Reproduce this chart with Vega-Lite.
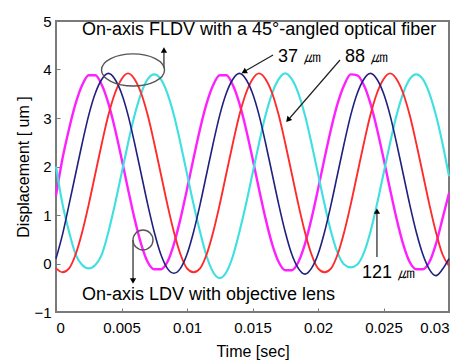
{
"$schema": "https://vega.github.io/schema/vega-lite/v6.json",
"width": 393, "height": 291,
"autosize": "none",
"padding": {"left": 56, "top": 21, "right": 14, "bottom": 49},
"config": {
 "font": "Liberation Sans",
 "view": {"stroke": "#7a7a7a", "strokeWidth": 2},
 "axis": {"grid": false, "domain": false, "tickColor": "#7a7a7a", "tickSize": -4, "labelColor": "#000", "labelFontSize": 15, "titleColor": "#000", "titleFontWeight": "normal"}
},
"datasets": {
 "waves": [
{"s":"m","t":0,"y":1.40},{"s":"m","t":0.0005,"y":2.17},{"s":"m","t":0.001,"y":2.78},{"s":"m","t":0.0015,"y":3.30},{"s":"m","t":0.002,"y":3.68},{"s":"m","t":0.0025,"y":3.88},{"s":"m","t":0.003,"y":3.88},{"s":"m","t":0.0035,"y":3.68},{"s":"m","t":0.004,"y":3.30},{"s":"m","t":0.0045,"y":2.78},{"s":"m","t":0.005,"y":2.17},{"s":"m","t":0.0055,"y":1.53},{"s":"m","t":0.006,"y":0.92},{"s":"m","t":0.0065,"y":0.40},{"s":"m","t":0.007,"y":0.03},{"s":"m","t":0.0075,"y":-0.12},{"s":"m","t":0.008,"y":-0.12},{"s":"m","t":0.0085,"y":0.03},{"s":"m","t":0.009,"y":0.40},{"s":"m","t":0.0095,"y":0.92},
{"s":"m","t":0.01,"y":1.53},{"s":"m","t":0.0105,"y":2.17},{"s":"m","t":0.011,"y":2.78},{"s":"m","t":0.0115,"y":3.30},{"s":"m","t":0.012,"y":3.68},{"s":"m","t":0.0125,"y":3.88},{"s":"m","t":0.013,"y":3.88},{"s":"m","t":0.0135,"y":3.68},{"s":"m","t":0.014,"y":3.30},{"s":"m","t":0.0145,"y":2.78},{"s":"m","t":0.015,"y":2.17},{"s":"m","t":0.0155,"y":1.53},{"s":"m","t":0.016,"y":0.92},{"s":"m","t":0.0165,"y":0.40},{"s":"m","t":0.017,"y":0.03},{"s":"m","t":0.0175,"y":-0.14},{"s":"m","t":0.018,"y":-0.14},{"s":"m","t":0.0185,"y":0.03},{"s":"m","t":0.019,"y":0.40},{"s":"m","t":0.0195,"y":0.92},
{"s":"m","t":0.02,"y":1.53},{"s":"m","t":0.0205,"y":2.17},{"s":"m","t":0.021,"y":2.78},{"s":"m","t":0.0215,"y":3.30},{"s":"m","t":0.022,"y":3.68},{"s":"m","t":0.0225,"y":3.90},{"s":"m","t":0.023,"y":3.88},{"s":"m","t":0.0235,"y":3.68},{"s":"m","t":0.024,"y":3.30},{"s":"m","t":0.0245,"y":2.78},{"s":"m","t":0.025,"y":2.17},{"s":"m","t":0.0255,"y":1.53},{"s":"m","t":0.026,"y":0.92},{"s":"m","t":0.0265,"y":0.40},{"s":"m","t":0.027,"y":0.03},{"s":"m","t":0.0275,"y":-0.12},{"s":"m","t":0.028,"y":-0.12},{"s":"m","t":0.0285,"y":0.03},{"s":"m","t":0.029,"y":0.40},{"s":"m","t":0.0295,"y":0.92},{"s":"m","t":0.03,"y":1.45},
{"s":"c","t":0,"y":2.00},{"s":"c","t":0.0005,"y":1.22},{"s":"c","t":0.001,"y":0.65},{"s":"c","t":0.0015,"y":0.19},{"s":"c","t":0.002,"y":-0.03},{"s":"c","t":0.0025,"y":-0.10},{"s":"c","t":0.003,"y":-0.03},{"s":"c","t":0.0035,"y":0.19},{"s":"c","t":0.004,"y":0.65},{"s":"c","t":0.0045,"y":1.22},{"s":"c","t":0.005,"y":1.85},{"s":"c","t":0.0055,"y":2.48},{"s":"c","t":0.006,"y":3.06},{"s":"c","t":0.0065,"y":3.51},{"s":"c","t":0.007,"y":3.80},{"s":"c","t":0.0075,"y":3.90},{"s":"c","t":0.008,"y":3.80},{"s":"c","t":0.0085,"y":3.51},{"s":"c","t":0.009,"y":3.06},{"s":"c","t":0.0095,"y":2.48},
{"s":"c","t":0.01,"y":1.85},{"s":"c","t":0.0105,"y":1.22},{"s":"c","t":0.011,"y":0.65},{"s":"c","t":0.0115,"y":0.15},{"s":"c","t":0.012,"y":-0.18},{"s":"c","t":0.0125,"y":-0.30},{"s":"c","t":0.013,"y":-0.18},{"s":"c","t":0.0135,"y":0.15},{"s":"c","t":0.014,"y":0.65},{"s":"c","t":0.0145,"y":1.22},{"s":"c","t":0.015,"y":1.85},{"s":"c","t":0.0155,"y":2.48},{"s":"c","t":0.016,"y":3.06},{"s":"c","t":0.0165,"y":3.51},{"s":"c","t":0.017,"y":3.80},{"s":"c","t":0.0175,"y":3.92},{"s":"c","t":0.018,"y":3.80},{"s":"c","t":0.0185,"y":3.51},{"s":"c","t":0.019,"y":3.06},{"s":"c","t":0.0195,"y":2.48},
{"s":"c","t":0.02,"y":1.85},{"s":"c","t":0.0205,"y":1.22},{"s":"c","t":0.021,"y":0.65},{"s":"c","t":0.0215,"y":0.22},{"s":"c","t":0.022,"y":-0.02},{"s":"c","t":0.0225,"y":-0.08},{"s":"c","t":0.023,"y":-0.02},{"s":"c","t":0.0235,"y":0.22},{"s":"c","t":0.024,"y":0.65},{"s":"c","t":0.0245,"y":1.22},{"s":"c","t":0.025,"y":1.85},{"s":"c","t":0.0255,"y":2.48},{"s":"c","t":0.026,"y":3.06},{"s":"c","t":0.0265,"y":3.51},{"s":"c","t":0.027,"y":3.80},{"s":"c","t":0.0275,"y":3.90},{"s":"c","t":0.028,"y":3.80},{"s":"c","t":0.0285,"y":3.51},{"s":"c","t":0.029,"y":3.06},{"s":"c","t":0.0295,"y":2.48},{"s":"c","t":0.03,"y":1.80},
{"s":"r","t":0,"y":-0.10},{"s":"r","t":0.0005,"y":-0.18},{"s":"r","t":0.001,"y":-0.10},{"s":"r","t":0.0015,"y":0.19},{"s":"r","t":0.002,"y":0.65},{"s":"r","t":0.0025,"y":1.22},{"s":"r","t":0.003,"y":1.85},{"s":"r","t":0.0035,"y":2.48},{"s":"r","t":0.004,"y":3.06},{"s":"r","t":0.0045,"y":3.51},{"s":"r","t":0.005,"y":3.80},{"s":"r","t":0.0055,"y":3.92},{"s":"r","t":0.006,"y":3.80},{"s":"r","t":0.0065,"y":3.51},{"s":"r","t":0.007,"y":3.06},{"s":"r","t":0.0075,"y":2.48},{"s":"r","t":0.008,"y":1.85},{"s":"r","t":0.0085,"y":1.22},{"s":"r","t":0.009,"y":0.65},{"s":"r","t":0.0095,"y":0.19},
{"s":"r","t":0.01,"y":-0.10},{"s":"r","t":0.0105,"y":-0.18},{"s":"r","t":0.011,"y":-0.10},{"s":"r","t":0.0115,"y":0.19},{"s":"r","t":0.012,"y":0.65},{"s":"r","t":0.0125,"y":1.22},{"s":"r","t":0.013,"y":1.85},{"s":"r","t":0.0135,"y":2.48},{"s":"r","t":0.014,"y":3.06},{"s":"r","t":0.0145,"y":3.51},{"s":"r","t":0.015,"y":3.80},{"s":"r","t":0.0155,"y":3.92},{"s":"r","t":0.016,"y":3.80},{"s":"r","t":0.0165,"y":3.51},{"s":"r","t":0.017,"y":3.06},{"s":"r","t":0.0175,"y":2.48},{"s":"r","t":0.018,"y":1.85},{"s":"r","t":0.0185,"y":1.22},{"s":"r","t":0.019,"y":0.65},{"s":"r","t":0.0195,"y":0.19},
{"s":"r","t":0.02,"y":-0.10},{"s":"r","t":0.0205,"y":-0.18},{"s":"r","t":0.021,"y":-0.10},{"s":"r","t":0.0215,"y":0.19},{"s":"r","t":0.022,"y":0.65},{"s":"r","t":0.0225,"y":1.22},{"s":"r","t":0.023,"y":1.85},{"s":"r","t":0.0235,"y":2.48},{"s":"r","t":0.024,"y":3.06},{"s":"r","t":0.0245,"y":3.51},{"s":"r","t":0.025,"y":3.80},{"s":"r","t":0.0255,"y":3.92},{"s":"r","t":0.026,"y":3.80},{"s":"r","t":0.0265,"y":3.51},{"s":"r","t":0.027,"y":3.06},{"s":"r","t":0.0275,"y":2.48},{"s":"r","t":0.028,"y":1.85},{"s":"r","t":0.0285,"y":1.22},{"s":"r","t":0.029,"y":0.65},{"s":"r","t":0.0295,"y":0.19},{"s":"r","t":0.03,"y":-0.05},
{"s":"n","t":0,"y":0.10},{"s":"n","t":0.0005,"y":0.60},{"s":"n","t":0.001,"y":1.22},{"s":"n","t":0.0015,"y":1.85},{"s":"n","t":0.002,"y":2.48},{"s":"n","t":0.0025,"y":3.06},{"s":"n","t":0.003,"y":3.51},{"s":"n","t":0.0035,"y":3.80},{"s":"n","t":0.004,"y":3.92},{"s":"n","t":0.0045,"y":3.80},{"s":"n","t":0.005,"y":3.51},{"s":"n","t":0.0055,"y":3.06},{"s":"n","t":0.006,"y":2.48},{"s":"n","t":0.0065,"y":1.85},{"s":"n","t":0.007,"y":1.22},{"s":"n","t":0.0075,"y":0.65},{"s":"n","t":0.008,"y":0.19},{"s":"n","t":0.0085,"y":-0.10},{"s":"n","t":0.009,"y":-0.20},{"s":"n","t":0.0095,"y":-0.10},
{"s":"n","t":0.01,"y":0.19},{"s":"n","t":0.0105,"y":0.65},{"s":"n","t":0.011,"y":1.22},{"s":"n","t":0.0115,"y":1.85},{"s":"n","t":0.012,"y":2.48},{"s":"n","t":0.0125,"y":3.06},{"s":"n","t":0.013,"y":3.51},{"s":"n","t":0.0135,"y":3.80},{"s":"n","t":0.014,"y":3.92},{"s":"n","t":0.0145,"y":3.80},{"s":"n","t":0.015,"y":3.51},{"s":"n","t":0.0155,"y":3.06},{"s":"n","t":0.016,"y":2.48},{"s":"n","t":0.0165,"y":1.85},{"s":"n","t":0.017,"y":1.22},{"s":"n","t":0.0175,"y":0.65},{"s":"n","t":0.018,"y":0.19},{"s":"n","t":0.0185,"y":-0.10},{"s":"n","t":0.019,"y":-0.22},{"s":"n","t":0.0195,"y":-0.10},
{"s":"n","t":0.02,"y":0.19},{"s":"n","t":0.0205,"y":0.65},{"s":"n","t":0.021,"y":1.22},{"s":"n","t":0.0215,"y":1.85},{"s":"n","t":0.022,"y":2.48},{"s":"n","t":0.0225,"y":3.06},{"s":"n","t":0.023,"y":3.51},{"s":"n","t":0.0235,"y":3.80},{"s":"n","t":0.024,"y":3.92},{"s":"n","t":0.0245,"y":3.80},{"s":"n","t":0.025,"y":3.51},{"s":"n","t":0.0255,"y":3.06},{"s":"n","t":0.026,"y":2.48},{"s":"n","t":0.0265,"y":1.85},{"s":"n","t":0.027,"y":1.22},{"s":"n","t":0.0275,"y":0.65},{"s":"n","t":0.028,"y":0.19},{"s":"n","t":0.0285,"y":-0.12},{"s":"n","t":0.029,"y":-0.25},{"s":"n","t":0.0295,"y":-0.12},{"s":"n","t":0.03,"y":0.10}
 ],
 "labels": [
  {"t":0.00198,"y":4.81,"label":"On-axis FLDV with a 45°-angled optical fiber"},
  {"t":0.01695,"y":4.26,"label":"37 ㎛"},
  {"t":0.02206,"y":4.26,"label":"88 ㎛"},
  {"t":0.02336,"y":-0.2,"label":"121 ㎛"},
  {"t":0.00198,"y":-0.65,"label":"On-axis LDV with objective lens"}
 ],
 "arrows": [
  {"t":0.00824,"y":4.03,"t2":0.00824,"y2":4.38},
  {"t":0.01657,"y":4.30,"t2":0.01445,"y2":3.97},
  {"t":0.02168,"y":4.196,"t2":0.01785,"y2":3.0},
  {"t":0.0245,"y":0.134,"t2":0.0245,"y2":1.05},
  {"t":0.00588,"y":0.485,"t2":0.00588,"y2":-0.33}
 ],
 "heads": [
  {"t":0.00824,"y":4.40,"a":0},
  {"t":0.01435,"y":3.95,"a":240},
  {"t":0.01771,"y":2.96,"a":221},
  {"t":0.0245,"y":1.08,"a":0},
  {"t":0.00588,"y":-0.36,"a":180}
 ],
 "ellipse": [{"t":0.00588,"y":3.99}],
 "circle": [{"t":0.00664,"y":0.485}]
},
"encoding": {
 "x": {"field": "t", "type": "quantitative", "scale": {"domain": [0, 0.03], "nice": false, "zero": false},
       "axis": {"title": "Time [sec]", "values": [0,0.005,0.01,0.015,0.02,0.025,0.03], "format": "~g", "labelPadding": 12, "titleFontSize": 16, "titlePadding": 8}},
 "y": {"field": "y", "type": "quantitative", "scale": {"domain": [-1, 5], "nice": false, "zero": false},
       "axis": {"title": "Displacement [ um ]", "values": [-1,0,1,2,3,4,5], "labelPadding": 9, "titleFontSize": 16, "titlePadding": 2}}
},
"layer": [
 {"data": {"name": "waves"}, "mark": {"type": "line", "interpolate": "monotone"},
  "encoding": {
   "color": {"field": "s", "type": "nominal", "scale": {"domain": ["m","c","r","n"], "range": ["#ff20ff","#40e0e0","#ff2a2a","#202080"]}, "legend": null},
   "strokeWidth": {"field": "s", "type": "nominal", "scale": {"domain": ["m","c","r","n"], "range": [2.4,1.6,1.4,1.4]}, "legend": null}
  }},
 {"data": {"name": "labels"}, "mark": {"type": "text", "align": "left", "baseline": "middle", "fontSize": 18, "color": "#000"},
  "encoding": {"text": {"field": "label"}}},
 {"data": {"name": "arrows"}, "mark": {"type": "rule", "color": "#222", "strokeWidth": 1.2},
  "encoding": {"x2": {"field": "t2"}, "y2": {"field": "y2"}}},
 {"data": {"name": "heads"}, "mark": {"type": "point", "shape": "triangle-up", "filled": true, "color": "#000", "size": 40, "opacity": 1},
  "encoding": {"angle": {"field": "a", "type": "quantitative", "scale": null}}},
 {"data": {"name": "ellipse"}, "mark": {"type": "point", "shape": "M-1,0A1,0.51,0,1,0,1,0A1,0.51,0,1,0,-1,0Z", "filled": false, "color": "#555", "strokeWidth": 1.4, "size": 3969, "opacity": 1},
  "encoding": {}},
 {"data": {"name": "circle"}, "mark": {"type": "point", "shape": "circle", "filled": false, "color": "#555", "strokeWidth": 1.4, "size": 400, "opacity": 1},
  "encoding": {}}
]
}
